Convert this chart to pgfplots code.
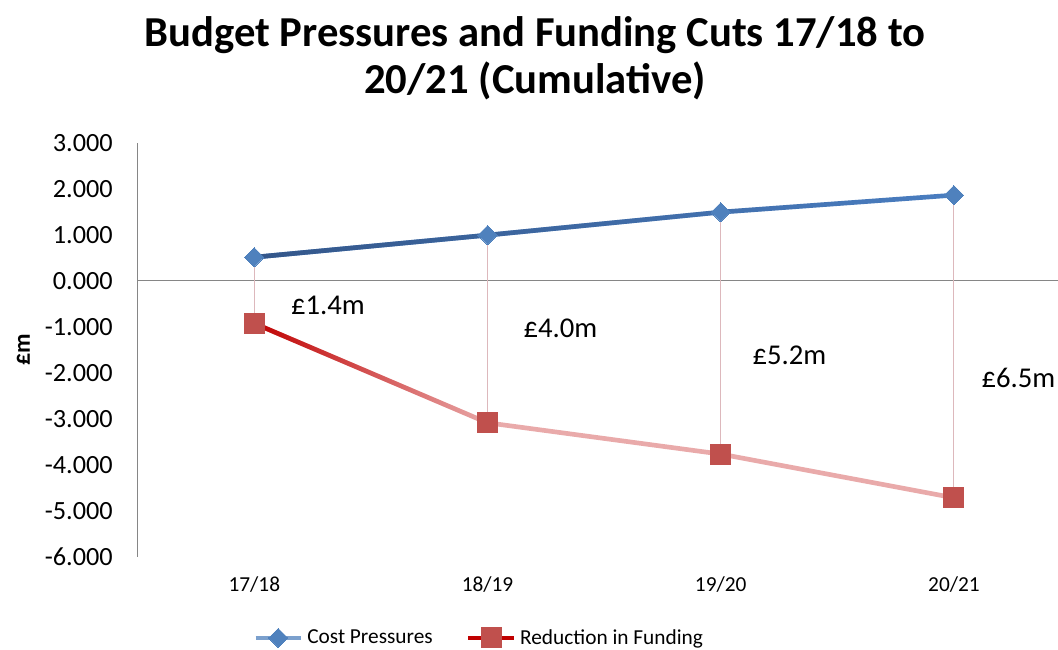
\documentclass[border=0pt]{standalone}
\usepackage{fontspec}
\setmainfont{Carlito}
\usepackage{pgfplots}
\usepackage{pgfplotstable}
\pgfplotsset{compat=1.18}
\usetikzlibrary{fadings}
\tikzfading[name=fade right, left color=transparent!0, right color=transparent!100]
\definecolor{blueL}{HTML}{4A7EC1}
\definecolor{blueD}{HTML}{34578A}
\definecolor{blueM}{HTML}{4F81BD}
\definecolor{redD}{HTML}{C00000}
\definecolor{redM}{HTML}{C0504D}
\definecolor{pinkL}{HTML}{E9AAAA}
\definecolor{dropc}{HTML}{DDB8BC}
\definecolor{axgray}{HTML}{868686}

\pgfplotstableread{
x cost red
0 0.51 -0.93
1 0.99 -3.09
2 1.49 -3.77
3 1.86 -4.72
}\budget

\begin{document}
\begin{tikzpicture}
\begin{axis}[
  at={(0pt,0pt)}, anchor=south west,
  scale only axis, width=699.6pt, height=310.5pt,
  xmin=-0.5, xmax=3.5, ymin=-6, ymax=3,
  clip=false,
  axis lines*=left,
  x axis line style={draw=none},
  y axis line style={draw=axgray, line width=1.1pt},
  major tick length=0pt,
  xtick={0,1,2,3},
  xticklabels={17/18,18/19,19/20,20/21},
  ytick={-6,-5,-4,-3,-2,-1,0,1,2,3},
  yticklabels={-6.000,-5.000,-4.000,-3.000,-2.000,-1.000,0.000,1.000,2.000,3.000},
  xticklabel style={font=\fontsize{16}{19}\selectfont, anchor=base, inner sep=0pt, yshift=-26.25pt},
  yticklabel style={font=\fontsize{19.7}{23}\selectfont, anchor=east, inner sep=0pt, xshift=-18.5pt},
  extra y ticks={0},
  extra y tick labels={},
  extra y tick style={grid=major, major grid style={draw=axgray, line width=1.1pt}},
  ylabel={\textbf{£m}},
  ylabel style={at={(axis description cs:0,0.5)}, anchor=center, yshift=85.8pt, font=\fontsize{18}{21}\selectfont},
  legend columns=-1,
  legend style={draw=none, fill=none, at={(axis description cs:0.1236,-0.1964)}, anchor=west,
    inner sep=0pt, nodes={inner sep=0pt, font=\fontsize{16}{19}\selectfont},
    /tikz/every odd column/.append style={column sep=3pt},
    /tikz/every even column/.append style={column sep=25pt}},
  legend image code/.code={\draw[mark repeat=2, mark phase=2, #1] plot coordinates {(0pt,0pt) (17pt,0pt) (34pt,0pt)};},
]
\addlegendimage{draw=blueM!75!white, line width=3.5pt, mark=square*, mark size=5.1pt, mark options={rotate=45, fill=blueM, draw=blueM, line width=0pt}}
\addlegendentry{Cost Pressures}
\addlegendimage{draw=redD, line width=3.5pt, mark=square*, mark size=7.5pt, mark options={fill=redM, draw=redM, line width=0pt}}
\addlegendentry{Reduction in Funding}

% drop (high-low) lines
\addplot[forget plot, draw=dropc, line width=0.8pt] coordinates {(0,0.51) (0,-0.93)};
\addplot[forget plot, draw=dropc, line width=0.8pt] coordinates {(1,0.99) (1,-3.09)};
\addplot[forget plot, draw=dropc, line width=0.8pt] coordinates {(2,1.49) (2,-3.77)};
\addplot[forget plot, draw=dropc, line width=0.8pt] coordinates {(3,1.86) (3,-4.72)};

% cost pressures line
\addplot[forget plot, draw=blueL, line width=3.5pt, mark=none] table[x=x, y=cost] {\budget};
\addplot[forget plot, draw=blueD, line width=3.5pt, mark=none, path fading=fade right] table[x=x, y=cost] {\budget};
% reduction line
\addplot[forget plot, draw=pinkL, line width=3.5pt, mark=none] table[x=x, y=red] {\budget};
\addplot[forget plot, draw=redD, line width=3.5pt, mark=none, path fading=fade right] coordinates {(0,-0.93) (1,-3.09)};

% markers
\addplot[forget plot, only marks, mark=square*, mark size=5.1pt, mark options={rotate=45, fill=blueM, draw=blueM, line width=0pt}] table[x=x, y=cost] {\budget};
\addplot[forget plot, only marks, mark=square*, mark size=7.5pt, mark options={fill=redM, draw=redM, line width=0pt}] table[x=x, y=red] {\budget};

% difference labels
\addplot[forget plot, draw=none, mark=none, nodes near coords, point meta=explicit symbolic,
  every node near coord/.append style={anchor=center, inner sep=0pt, font=\fontsize{21.5}{25}\selectfont, text=black}]
  coordinates {(0.316,-0.528) [£1.4m] (1.313,-1.028) [£4.0m] (2.295,-1.615) [£5.2m] (3.277,-2.115) [£6.5m]};
\end{axis}
\node[anchor=base, font=\bfseries\fontsize{32}{38}\selectfont] at (298pt,382.5pt) {Budget Pressures and Funding Cuts 17/18 to};
\node[anchor=base, font=\bfseries\fontsize{32}{38}\selectfont] at (298pt,347pt) {20/21 (Cumulative)};
\pgfresetboundingbox
\path[use as bounding box] (-103.3pt,-70pt) rectangle (690.2pt,417.5pt);
\end{tikzpicture}
\end{document}
